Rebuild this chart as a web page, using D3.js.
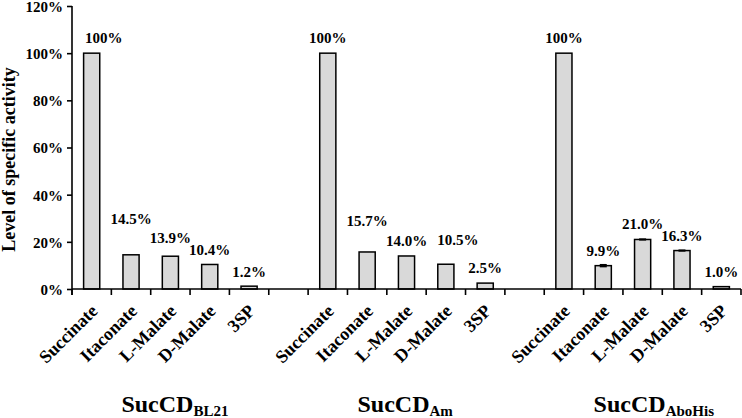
<!DOCTYPE html>
<html><head><meta charset="utf-8">
<script src="https://cdn.jsdelivr.net/npm/d3@7"></script>
<style>
html,body{margin:0;padding:0;background:#fff;}
svg{display:block;font-family:"Liberation Serif","Times New Roman",serif;font-weight:bold;}
</style></head>
<body>
<svg id="chart" width="742" height="418"></svg>
<script>
// ---- data ----
const categories = ["Succinate", "Itaconate", "L-Malate", "D-Malate", "3SP"];
const strains = ["BL21", "Am", "AboHis"];
const valuesBL21 = [100, 14.5, 13.9, 10.4, 1.2];
const valuesAm = [100, 15.7, 14.0, 10.5, 2.5];
const valuesAboHis = [100, 9.9, 21.0, 16.3, 1.0];
const errorsBL21 = [0, 0, 0, 0, 0];
const errorsAm = [0, 0, 0, 0, 0];
const errorsAboHis = [0, 0.4, 0.15, 0.15, 0];
const labelsBL21 = ["100%", "14.5%", "13.9%", "10.4%", "1.2%"];
const labelsAm = ["100%", "15.7%", "14.0%", "10.5%", "2.5%"];
const labelsAboHis = ["100%", "9.9%", "21.0%", "16.3%", "1.0%"];
// level (in % units) at which each value label sits
const labelAtBL21 = [104.5, 27.5, 19.5, 14.4, 5.1];
const labelAtAm = [104.5, 26.7, 18.2, 18.6, 6.8];
const labelAtAboHis = [104.5, 14.0, 25.4, 20.3, 5.1];
const yTicks = [0, 20, 40, 60, 80, 100, 120];
const yTitle = "Level of specific activity";
const titleMain = "SucCD";

const seriesValues = [valuesBL21, valuesAm, valuesAboHis];
const seriesErrors = [errorsBL21, errorsAm, errorsAboHis];
const seriesLabels = [labelsBL21, labelsAm, labelsAboHis];
const seriesLabelAt = [labelAtBL21, labelAtAm, labelAtAboHis];

// ---- layout ----
const svg = d3.select("#chart");
const mLeft = 72, mRight = 741, mTop = 6, mBottom = 289;
const nSlots = strains.length * (categories.length + 1) - 1;
const slots = d3.range(nSlots);
const x = d3.scaleBand().domain(slots).range([mLeft, mRight]).paddingInner(0.59).paddingOuter(0.295);
const step = x.step();
const y = d3.scaleLinear().domain([0, 120]).range([mBottom, mTop]);
const slotOf = (g, i) => g * (categories.length + 1) + i;
const cx = s => x(s) + x.bandwidth() / 2;
const nudge = {"0-0": 12, "1-3": 12};

const rows = [];
strains.forEach((s, g) => categories.forEach((c, i) => rows.push({
  g, i, cat: c, slot: slotOf(g, i), v: seriesValues[g][i], e: seriesErrors[g][i],
  label: seriesLabels[g][i], la: seriesLabelAt[g][i]
})));

// y axis
const yAxis = d3.axisLeft(y).tickValues(yTicks).tickFormat(d => d + "%").tickSize(5).tickPadding(4);
const ya = svg.append("g").attr("transform", `translate(${mLeft},0)`).call(yAxis);
ya.select(".domain").attr("stroke", "#000").attr("stroke-width", 1.6).attr("d", `M0,${mTop}V${mBottom + 6}`);
ya.selectAll(".tick line").attr("stroke", "#000").attr("stroke-width", 1.6);
ya.selectAll(".tick text").attr("fill", "#000").attr("dy", "0.36em").style("font-size", "15px")
  .style("font-family", '"Liberation Serif","Times New Roman",serif').style("font-weight", "bold");

// bars
svg.append("g").selectAll("rect").data(rows).join("rect")
  .attr("x", d => x(d.slot)).attr("width", x.bandwidth())
  .attr("y", d => y(d.v)).attr("height", d => y(0) - y(d.v))
  .attr("fill", "#d9d9d9").attr("stroke", "#000").attr("stroke-width", 1.5);

// error bars
const eb = svg.append("g").selectAll("g").data(rows.filter(d => d.e > 0)).join("g");
eb.append("line").attr("x1", d => cx(d.slot)).attr("x2", d => cx(d.slot))
  .attr("y1", d => y(d.v - d.e)).attr("y2", d => y(d.v + d.e)).attr("stroke", "#000").attr("stroke-width", 1.5);
eb.append("line").attr("x1", d => cx(d.slot) - 3.5).attr("x2", d => cx(d.slot) + 3.5)
  .attr("y1", d => y(d.v + d.e)).attr("y2", d => y(d.v + d.e)).attr("stroke", "#000").attr("stroke-width", 1.5);
eb.append("line").attr("x1", d => cx(d.slot) - 3.5).attr("x2", d => cx(d.slot) + 3.5)
  .attr("y1", d => y(d.v - d.e)).attr("y2", d => y(d.v - d.e)).attr("stroke", "#000").attr("stroke-width", 1.5);

// x axis line and ticks
const xg = svg.append("g");
xg.append("line").attr("x1", mLeft).attr("x2", mRight).attr("y1", mBottom).attr("y2", mBottom)
  .attr("stroke", "#000").attr("stroke-width", 1.6);
xg.selectAll("line.tk").data(d3.range(nSlots + 1)).join("line").attr("class", "tk")
  .attr("x1", k => mLeft + k * step).attr("x2", k => mLeft + k * step)
  .attr("y1", mBottom).attr("y2", mBottom + 6).attr("stroke", "#000").attr("stroke-width", 1.6);

// value labels
svg.append("g").selectAll("text").data(rows).join("text")
  .attr("x", d => cx(d.slot) + (nudge[d.g + "-" + d.i] || 0)).attr("y", d => y(d.la))
  .attr("text-anchor", "middle").style("font-size", "15px").text(d => d.label);

// category labels (rotated -45deg)
svg.append("g").selectAll("text").data(rows).join("text")
  .attr("transform", d => `translate(${cx(d.slot) + 7},${mBottom + 23}) rotate(-45)`)
  .attr("text-anchor", "end").style("font-size", "18px").text(d => d.cat);

// y title
svg.append("text").attr("transform", `translate(15,${(mTop + mBottom) / 2 + 12}) rotate(-90)`)
  .attr("text-anchor", "middle").style("font-size", "18px").text(yTitle);

// group titles
strains.forEach((s, g) => {
  const gc = cx(slotOf(g, 2));
  const t = svg.append("text").attr("x", gc - 49).attr("y", 412).style("font-size", "24px");
  t.append("tspan").text(titleMain);
  t.append("tspan").attr("dy", 4).style("font-size", "15px").text(s);
});
</script>
</body></html>
